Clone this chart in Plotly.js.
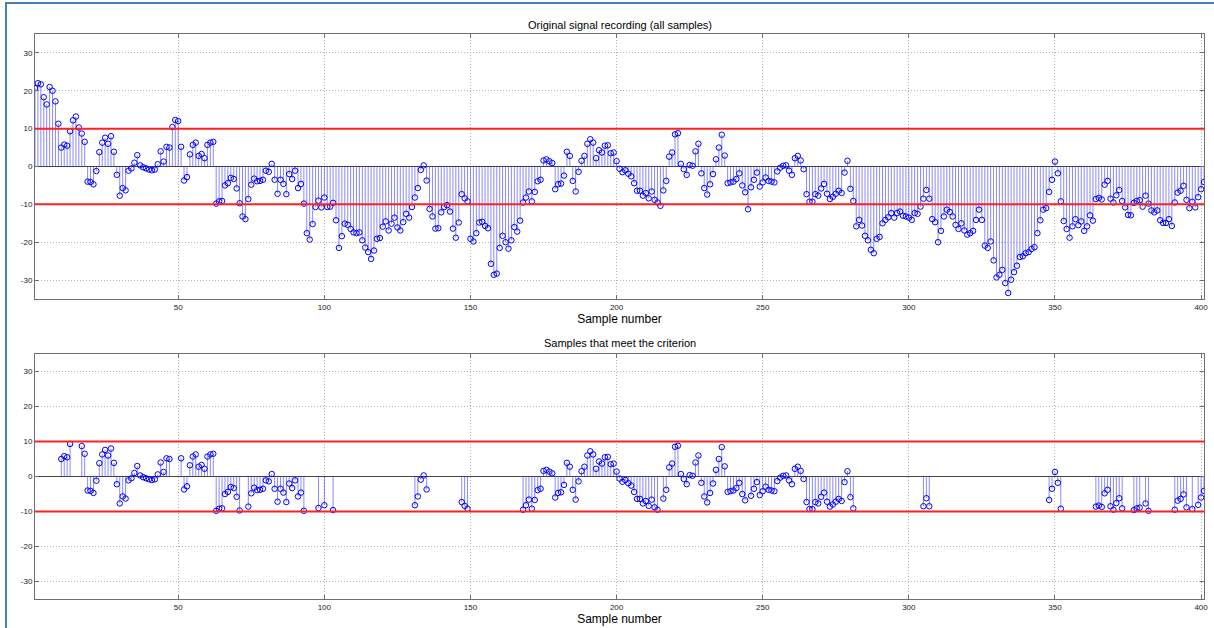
<!DOCTYPE html>
<html><head><meta charset="utf-8">
<script src="https://cdn.plot.ly/plotly-3.0.1.min.js"></script>
<style>
html,body{margin:0;padding:0;background:#fff;overflow:hidden;}
#chart{width:1214px;height:628px;position:absolute;left:0;top:0;}
#frameL{position:absolute;left:5px;top:2px;width:2px;height:626px;background:#4a7ebb;}
#frameT{position:absolute;left:5px;top:2px;width:1209px;height:2px;background:#4a7ebb;}
</style>
</head><body>
<div id="chart"></div>
<div id="frameL"></div><div id="frameT"></div>
<script>
// Signal values, samples 1..401
const sampleValues = [
 20.7,22.0,21.7,18.3,16.4,21.0,20.0,17.2,11.3,5.0,
 5.8,5.5,9.3,12.2,13.2,10.3,8.7,6.5,-4.0,-4.1,
 -4.7,-1.2,3.8,6.3,7.6,6.0,8.0,3.9,-2.2,-7.7,
 -5.7,-6.3,-1.1,-0.5,1.0,3.0,0.3,-0.2,-0.5,-0.8,
 -1.0,-0.8,0.6,4.0,1.3,5.2,5.0,10.4,12.3,12.0,
 5.2,-3.7,-2.8,3.2,5.7,6.3,2.8,3.3,2.2,5.7,
 6.3,6.5,-9.8,-9.2,-9.1,-5.0,-4.4,-3.0,-3.3,-5.8,
 -9.7,-13.2,-13.9,-8.6,-4.8,-3.2,-3.9,-3.8,-3.5,-1.1,
 -1.4,0.7,-3.5,-7.2,-3.5,-4.6,-7.3,-2.0,-3.3,-1.1,
 -5.7,-4.6,-9.8,-17.6,-19.3,-15.2,-10.7,-9.0,-10.8,-8.2,
 -10.7,-10.6,-9.6,-14.2,-21.5,-18.4,-15.1,-15.4,-16.5,-17.4,
 -17.6,-17.4,-19.5,-21.4,-22.6,-24.4,-22.2,-19.1,-18.9,-15.9,
 -14.5,-16.9,-15.1,-13.5,-16.1,-16.9,-14.7,-12.5,-13.5,-10.7,
 -8.2,-5.7,-0.9,0.3,-3.7,-11.2,-13.2,-16.4,-16.3,-12.1,
 -10.7,-10.2,-11.9,-16.4,-18.8,-14.8,-7.3,-8.4,-9.2,-19.1,
 -19.8,-17.6,-14.8,-14.6,-15.7,-16.3,-25.7,-28.6,-28.3,-21.5,
 -18.3,-20.0,-21.7,-19.5,-16.0,-17.2,-14.3,-9.5,-8.2,-6.6,
 -9.2,-6.7,-3.9,-3.5,1.6,1.9,1.4,0.9,-6.0,-4.7,
 -4.5,-2.4,3.9,2.8,-3.8,-6.6,-1.4,1.5,2.8,6.0,
 7.2,6.3,2.2,4.3,3.7,5.5,5.6,3.5,3.7,1.4,
 -0.6,-1.5,-1.0,-1.9,-2.6,-4.4,-6.4,-6.4,-7.7,-7.0,
 -8.4,-6.6,-8.8,-9.5,-10.4,-6.3,-3.8,2.6,3.7,8.5,
 8.8,0.7,-0.7,-2.2,0.4,0.2,4.0,6.0,-1.8,-5.7,
 -7.4,-4.7,-2.0,1.9,5.0,8.4,2.9,-4.4,-4.2,-4.0,
 -3.3,-1.8,-5.0,-6.8,-11.3,-5.5,-3.5,-1.6,-5.3,-4.2,
 -2.9,-3.8,-4.0,-4.2,-1.3,-0.3,0.2,0.3,-1.1,-2.2,
 2.2,2.8,1.6,-0.7,-7.3,-9.3,-9.3,-7.3,-7.7,-5.8,
 -4.6,-7.2,-8.6,-8.0,-7.2,-6.4,-7.0,-1.6,1.5,-5.9,
 -9.1,-15.8,-14.1,-15.6,-18.3,-19.5,-22.0,-22.9,-19.1,-18.6,
 -15.0,-14.1,-13.4,-12.3,-13.5,-12.3,-11.9,-13.0,-13.2,-13.5,
 -14.1,-12.3,-12.5,-10.6,-8.5,-6.2,-8.5,-13.9,-14.7,-20.0,
 -17.0,-13.2,-11.4,-12.0,-13.2,-15.4,-16.5,-15.0,-16.9,-18.0,
 -17.6,-17.0,-14.1,-11.4,-14.1,-20.9,-21.5,-19.8,-24.8,-29.3,
 -28.6,-27.3,-30.8,-33.4,-29.9,-27.9,-26.2,-23.9,-23.7,-22.9,
 -22.6,-21.8,-21.3,-17.6,-14.2,-11.4,-11.0,-6.7,-3.5,1.3,
 -1.8,-9.2,-14.4,-16.5,-18.8,-15.8,-13.9,-15.5,-14.5,-17.0,
 -15.8,-12.9,-14.3,-8.6,-8.3,-8.7,-4.8,-3.8,-8.5,-9.5,
 -7.6,-6.2,-9.1,-10.8,-12.8,-12.9,-9.6,-9.1,-8.9,-10.6,
 -7.7,-9.8,-11.6,-12.1,-11.6,-14.2,-14.9,-14.9,-13.9,-15.7,
 -9.5,-6.9,-6.4,-5.1,-8.8,-11.0,-9.3,-10.8,-8.1,-6.0,
 -4.1
];
const thresholds = [10, -10];
const xTickValues = [50,100,150,200,250,300,350,400];
const yTickValues = [-30,-20,-10,0,10,20,30];
const panelTitles = ['Original signal recording (all samples)', 'Samples that meet the criterion'];
const xLabel = 'Sample number';

const sampleNumbers = sampleValues.map((v, i) => i + 1);
// Samples within the threshold band
const keptNumbers = [], keptValues = [];
sampleValues.forEach((v, i) => {
  if (v <= thresholds[0] && v >= thresholds[1]) { keptNumbers.push(sampleNumbers[i]); keptValues.push(v); }
});

function stemTraces(xs, ys, xa, ya) {
  const sx = [], sy = [];
  xs.forEach((x, i) => { sx.push(x, x, null); sy.push(0, ys[i], null); });
  return [
    {type:'scatter', mode:'lines', x:sx, y:sy, xaxis:xa, yaxis:ya,
     line:{color:'rgba(40,40,255,0.55)', width:1}, hoverinfo:'skip', showlegend:false},
    {type:'scatter', mode:'markers', x:xs, y:ys, xaxis:xa, yaxis:ya,
     marker:{symbol:'circle-open', size:5.5, color:'#0000ff', line:{width:1, color:'#2020ff'}}, showlegend:false}
  ];
}

const data = [...stemTraces(sampleNumbers, sampleValues, 'x', 'y'),
              ...stemTraces(keptNumbers, keptValues, 'x2', 'y2')];

const W = 1214, H = 628;
const xDom = [35/W, 1204/W];
const y1Dom = [(H-299)/H, (H-34)/H];
const y2Dom = [(H-599)/H, (H-354)/H];
const fontFam = 'Liberation Sans, Arial, sans-serif';

function xAxis(anchor) {
  return {domain:xDom, anchor:anchor, range:[1, 401], tickvals:xTickValues, ticktext:xTickValues.map(String),
    showgrid:true, gridcolor:'#b4b4b4', griddash:'1px,2px', gridwidth:1,
    showline:true, mirror:'ticks', linecolor:'#6e6e6e', linewidth:1,
    ticks:'inside', ticklen:4, tickcolor:'#6e6e6e', zeroline:false,
    tickfont:{family:fontFam, size:8, color:'#222'},
    title:{text:xLabel, font:{family:fontFam, size:12, color:'#000'}, standoff:2}};
}
function yAxis(anchor, dom) {
  return {domain:dom, anchor:anchor, range:[-35, 35], tickvals:yTickValues, ticktext:yTickValues.map(String),
    showgrid:true, gridcolor:'#b4b4b4', griddash:'1px,2px', gridwidth:1,
    showline:true, mirror:'ticks', linecolor:'#6e6e6e', linewidth:1,
    ticks:'inside', ticklen:4, tickcolor:'#6e6e6e',
    zeroline:true, zerolinecolor:'#444', zerolinewidth:1,
    tickfont:{family:fontFam, size:8, color:'#222'}};
}

const shapes = [];
[['x','y'],['x2','y2']].forEach(([xa, ya]) => {
  thresholds.forEach(t => shapes.push({type:'line', xref:xa+' domain', x0:0, x1:1, yref:ya, y0:t, y1:t,
    line:{color:'#ff2020', width:2}, layer:'above'}));
});

const layout = {
  width:W, height:H, margin:{l:0, r:0, t:0, b:0},
  paper_bgcolor:'#ffffff', plot_bgcolor:'#ffffff', showlegend:false,
  xaxis:xAxis('y'), yaxis:yAxis('x', y1Dom),
  xaxis2:xAxis('y2'), yaxis2:yAxis('x2', y2Dom),
  shapes:shapes,
  annotations:[
    {text:panelTitles[0], xref:'paper', yref:'paper', x:(xDom[0]+xDom[1])/2, y:(H-25)/H, showarrow:false,
     font:{family:fontFam, size:11, color:'#000'}, yanchor:'middle'},
    {text:panelTitles[1], xref:'paper', yref:'paper', x:(xDom[0]+xDom[1])/2, y:(H-343)/H, showarrow:false,
     font:{family:fontFam, size:11, color:'#000'}, yanchor:'middle'}
  ]
};

Plotly.newPlot('chart', data, layout, {staticPlot:true, displayModeBar:false});
</script>
</body></html>
